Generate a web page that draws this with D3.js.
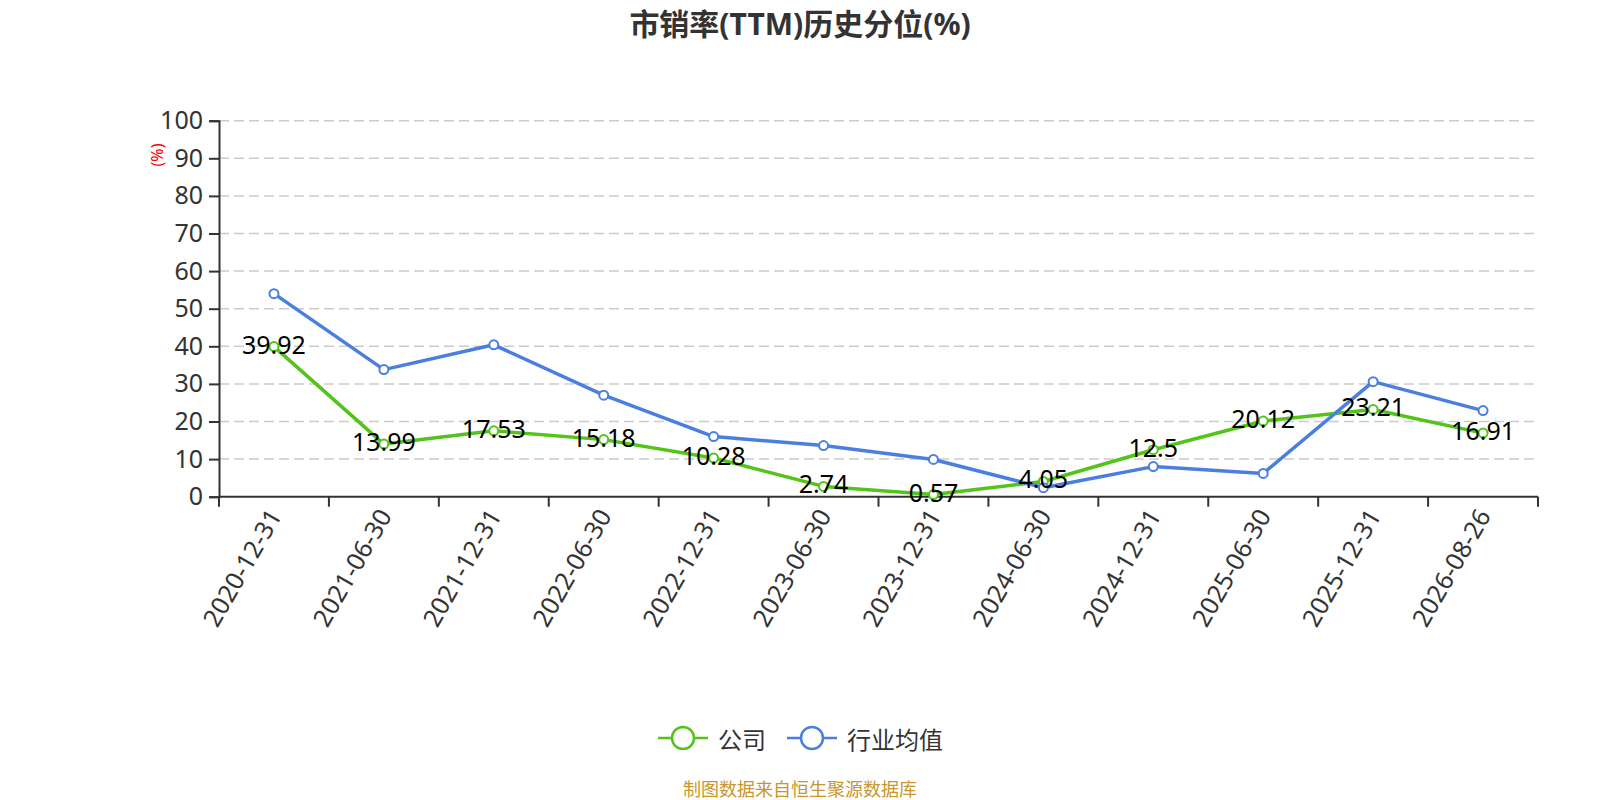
<!DOCTYPE html>
<html>
<head>
<meta charset="utf-8">
<script src="https://cdn.jsdelivr.net/npm/d3@7"></script>
<style>
  body { margin: 0; background: #fff; }
  svg { display: block; font-family: "Noto Sans", "Noto Sans CJK SC", sans-serif; }
</style>
</head>
<body>
<div id="chart"></div>
<script>
// dates on the x axis
const dates = ['2020-12-31', '2021-06-30', '2021-12-31', '2022-06-30', '2022-12-31', '2023-06-30',
  '2023-12-31', '2024-06-30', '2024-12-31', '2025-06-30', '2025-12-31', '2026-08-26'];
// 公司
const companyValues = [39.92, 13.99, 17.53, 15.18, 10.28, 2.74, 0.57, 4.05, 12.5, 20.12, 23.21, 16.91];
// 行业均值
const industryValues = [54.0, 33.8, 40.4, 27.0, 16.0, 13.6, 9.9, 2.4, 8.0, 6.2, 30.6, 22.9];
const yTicks = [0, 10, 20, 30, 40, 50, 60, 70, 80, 90, 100];

const width = 1600, height = 800;
const margin = { top: 120.7, right: 62, bottom: 303.3, left: 219 };

const svg = d3.select('#chart').append('svg')
  .attr('width', width).attr('height', height);

const x = d3.scaleBand().domain(dates).range([margin.left, width - margin.right]);
const y = d3.scaleLinear().domain([0, 100]).range([height - margin.bottom, margin.top]);

// title
svg.append('text')
  .attr('x', width / 2).attr('y', 23)
  .attr('text-anchor', 'middle').attr('dominant-baseline', 'central')
  .attr('font-size', 30).attr('font-weight', 'bold').attr('fill', '#333')
  .text('市销率(TTM)历史分位(%)');

// grid lines
svg.append('g')
  .selectAll('line')
  .data(yTicks.filter(d => d > 0))
  .enter().append('line')
  .attr('x1', margin.left).attr('x2', width - margin.right)
  .attr('y1', d => y(d)).attr('y2', d => y(d))
  .attr('stroke', '#ccc').attr('stroke-width', 1.5).attr('stroke-dasharray', '10,5');

// y axis
const yAxis = svg.append('g')
  .attr('transform', 'translate(' + margin.left + ',0)')
  .call(d3.axisLeft(y).tickValues(yTicks).tickSize(10).tickPadding(6));
yAxis.select('.domain').attr('stroke', '#333').attr('stroke-width', 2);
yAxis.selectAll('.tick line').attr('stroke', '#333').attr('stroke-width', 2);
yAxis.selectAll('.tick text').attr('font-size', 25).attr('fill', '#333')
  .attr('font-family', '"Noto Sans", sans-serif');

svg.append('text')
  .attr('transform', 'translate(157,155) rotate(-90)')
  .attr('text-anchor', 'middle').attr('dominant-baseline', 'central')
  .attr('font-size', 16).attr('fill', 'red')
  .text('(%)');

// x axis
const xTickPos = dates.map(d => x(d)).concat([x.range()[1]]);
const xAxis = svg.append('g')
  .attr('transform', 'translate(0,' + y(0) + ')');
xAxis.append('line')
  .attr('x1', margin.left).attr('x2', width - margin.right)
  .attr('stroke', '#333').attr('stroke-width', 2);
xAxis.selectAll('.xtick')
  .data(xTickPos)
  .enter().append('line')
  .attr('class', 'xtick')
  .attr('x1', d => d).attr('x2', d => d)
  .attr('y1', 0).attr('y2', 10)
  .attr('stroke', '#333').attr('stroke-width', 2);
xAxis.selectAll('.xlabel')
  .data(dates)
  .enter().append('text')
  .attr('class', 'xlabel')
  .attr('transform', d => 'translate(' + (x(d) + x.bandwidth() / 2) + ',14) rotate(-60)')
  .attr('text-anchor', 'end').attr('dominant-baseline', 'central')
  .attr('font-size', 25).attr('fill', '#333')
  .text(d => d);

// series
const series = [
  { name: '公司', values: companyValues, color: '#52c41a' },
  { name: '行业均值', values: industryValues, color: '#4a7fe0' }
];

const cx = d => x(d) + x.bandwidth() / 2;
const line = d3.line().x(d => cx(d.date)).y(d => y(d.value));

series.forEach(s => {
  const pts = dates.map((d, i) => ({ date: d, value: s.values[i] }));
  const g = svg.append('g');
  g.append('path')
    .datum(pts)
    .attr('d', line)
    .attr('fill', 'none')
    .attr('stroke', s.color).attr('stroke-width', 3.5)
    .attr('stroke-linejoin', 'round');
  g.selectAll('circle')
    .data(pts)
    .enter().append('circle')
    .attr('cx', d => cx(d.date)).attr('cy', d => y(d.value))
    .attr('r', 4.5)
    .attr('fill', '#fff')
    .attr('stroke', s.color).attr('stroke-width', 2);
});

// data labels for 公司
svg.append('g')
  .selectAll('text')
  .data(dates.map((d, i) => ({ date: d, value: companyValues[i] })))
  .enter().append('text')
  .attr('x', d => cx(d.date)).attr('y', d => y(d.value) - 3)
  .attr('text-anchor', 'middle').attr('dominant-baseline', 'central')
  .attr('font-size', 25).attr('fill', '#000')
  .text(d => d.value);

// legend
const legend = svg.append('g');
const legendItems = [
  { name: '公司', color: '#52c41a', x: 658 },
  { name: '行业均值', color: '#4a7fe0', x: 787 }
];
legendItems.forEach(it => {
  const lg = legend.append('g').attr('transform', 'translate(' + it.x + ',738)');
  lg.append('line').attr('x1', 0).attr('x2', 50)
    .attr('stroke', it.color).attr('stroke-width', 2.5);
  lg.append('circle').attr('cx', 25).attr('r', 11)
    .attr('fill', '#fff').attr('stroke', it.color).attr('stroke-width', 2.5);
  lg.append('text').attr('x', 60).attr('dominant-baseline', 'central')
    .attr('font-size', 24).attr('fill', '#333')
    .attr('font-family', '"Noto Sans CJK SC", sans-serif')
    .text(it.name);
});

// source
svg.append('text')
  .attr('x', 800).attr('y', 788)
  .attr('text-anchor', 'middle').attr('dominant-baseline', 'central')
  .attr('font-size', 18).attr('fill', '#c8962d')
  .attr('font-family', '"Noto Sans CJK SC", sans-serif')
  .text('制图数据来自恒生聚源数据库');
</script>
</body>
</html>
